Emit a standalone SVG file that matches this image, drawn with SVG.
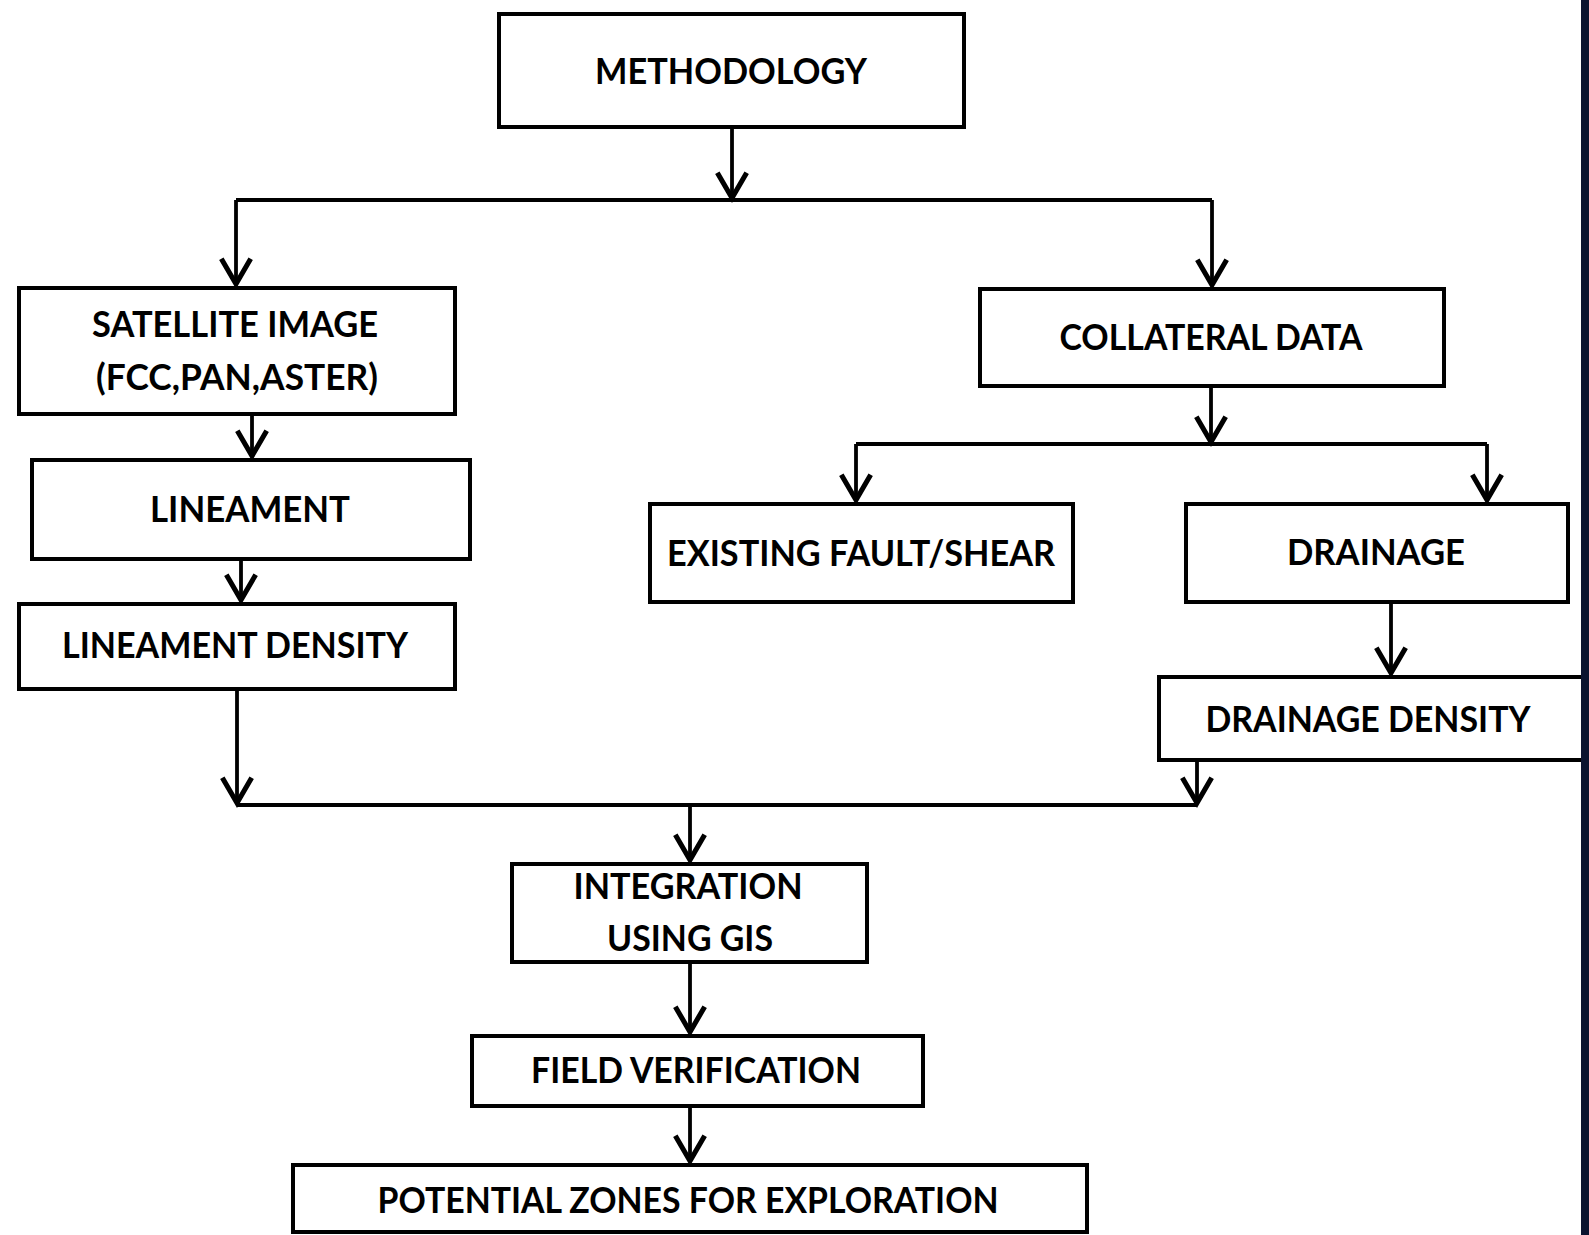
<svg xmlns="http://www.w3.org/2000/svg" width="1589" height="1235" viewBox="0 0 1589 1235">
  <style>
    .box { fill: #ffffff; stroke: #000000; stroke-width: 4; }
    .lbl { font-family: Lato, "Liberation Sans", sans-serif; font-weight: bold; font-size: 36px; fill: #000000; text-anchor: middle; }
    .con { fill: none; stroke: #000000; stroke-width: 3.8; }
  </style>
  <defs>
    <marker id="arr" markerUnits="userSpaceOnUse" markerWidth="40" markerHeight="40" refX="0" refY="0" orient="auto" viewBox="-25 -15 30 30" overflow="visible">
      <path d="M-19,-11 L0,0 L-19,11" fill="none" stroke="#000000" stroke-width="3.8" stroke-linejoin="miter"/>
    </marker>
  </defs>
  <rect x="0" y="0" width="1589" height="1235" fill="#ffffff"/>

  <g id="connectors">
    <path class="con" d="M732,129 V198" marker-end="url(#arr)"/>
    <path class="con" d="M236,200 H1212"/>
    <path class="con" d="M236,200 V284" marker-end="url(#arr)"/>
    <path class="con" d="M1212,200 V285" marker-end="url(#arr)"/>
    <path class="con" d="M252,416 V456" marker-end="url(#arr)"/>
    <path class="con" d="M241,561 V600" marker-end="url(#arr)"/>
    <path class="con" d="M237,691 V803" marker-end="url(#arr)"/>
    <path class="con" d="M237,805 H1197"/>
    <path class="con" d="M1197,762 V803" marker-end="url(#arr)"/>
    <path class="con" d="M690,805 V860" marker-end="url(#arr)"/>
    <path class="con" d="M1211,388 V442" marker-end="url(#arr)"/>
    <path class="con" d="M856,444 H1487"/>
    <path class="con" d="M856,444 V500" marker-end="url(#arr)"/>
    <path class="con" d="M1487,444 V500" marker-end="url(#arr)"/>
    <path class="con" d="M1391,604 V673" marker-end="url(#arr)"/>
    <path class="con" d="M690,964 V1032" marker-end="url(#arr)"/>
    <path class="con" d="M690,1108 V1161" marker-end="url(#arr)"/>
  </g>

  <g id="methodology">
    <rect class="box" x="499" y="14" width="465" height="113"/>
    <text class="lbl" x="731" y="84" textLength="272" lengthAdjust="spacingAndGlyphs">METHODOLOGY</text>
  </g>
  <g id="satellite-image">
    <rect class="box" x="19" y="288" width="436" height="126"/>
    <text class="lbl" x="235" y="337" textLength="286" lengthAdjust="spacingAndGlyphs">SATELLITE IMAGE</text>
    <text class="lbl" x="237" y="390" textLength="282" lengthAdjust="spacingAndGlyphs">(FCC,PAN,ASTER)</text>
  </g>
  <g id="lineament">
    <rect class="box" x="32" y="460" width="438" height="99"/>
    <text class="lbl" x="250" y="522" textLength="200" lengthAdjust="spacingAndGlyphs">LINEAMENT</text>
  </g>
  <g id="lineament-density">
    <rect class="box" x="19" y="604" width="436" height="85"/>
    <text class="lbl" x="235" y="658" textLength="346" lengthAdjust="spacingAndGlyphs">LINEAMENT DENSITY</text>
  </g>
  <g id="collateral-data">
    <rect class="box" x="980" y="289" width="464" height="97"/>
    <text class="lbl" x="1211" y="350" textLength="303" lengthAdjust="spacingAndGlyphs">COLLATERAL DATA</text>
  </g>
  <g id="existing-fault">
    <rect class="box" x="650" y="504" width="423" height="98"/>
    <text class="lbl" x="861" y="566" textLength="388" lengthAdjust="spacingAndGlyphs">EXISTING FAULT/SHEAR</text>
  </g>
  <g id="drainage">
    <rect class="box" x="1186" y="504" width="382" height="98"/>
    <text class="lbl" x="1376" y="565" textLength="178" lengthAdjust="spacingAndGlyphs">DRAINAGE</text>
  </g>
  <g id="drainage-density">
    <rect class="box" x="1159" y="677" width="424" height="83"/>
    <text class="lbl" x="1368" y="732" textLength="325" lengthAdjust="spacingAndGlyphs">DRAINAGE DENSITY</text>
  </g>
  <g id="integration">
    <rect class="box" x="512" y="864" width="355" height="98"/>
    <text class="lbl" x="688" y="899" textLength="229" lengthAdjust="spacingAndGlyphs">INTEGRATION</text>
    <text class="lbl" x="690" y="951" textLength="166" lengthAdjust="spacingAndGlyphs">USING GIS</text>
  </g>
  <g id="field-verification">
    <rect class="box" x="472" y="1036" width="451" height="70"/>
    <text class="lbl" x="696" y="1083" textLength="330" lengthAdjust="spacingAndGlyphs">FIELD VERIFICATION</text>
  </g>
  <g id="potential-zones">
    <rect class="box" x="293" y="1165" width="794" height="67"/>
    <text class="lbl" x="688" y="1213" textLength="621" lengthAdjust="spacingAndGlyphs">POTENTIAL ZONES FOR EXPLORATION</text>
  </g>

  <rect id="edge-strip" x="1581" y="0" width="8" height="1235" fill="#0a1430"/>
</svg>
